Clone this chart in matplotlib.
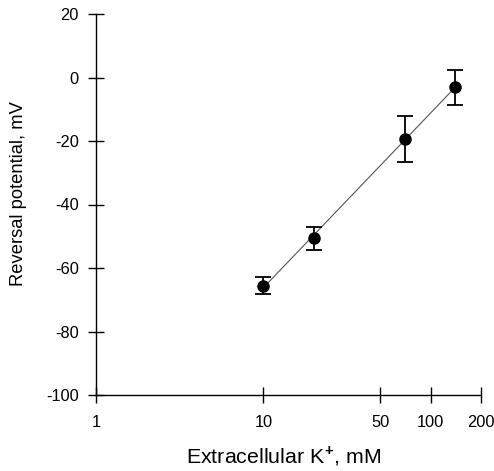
import numpy as np
import matplotlib
matplotlib.use("Agg")
import matplotlib.pyplot as plt

plt.rcParams['font.family'] = ['Liberation Sans', 'DejaVu Sans']
plt.rcParams['mathtext.fontset'] = 'custom'
plt.rcParams['mathtext.rm'] = 'Liberation Sans'
plt.rcParams['mathtext.bf'] = 'Liberation Sans:bold'

k_ext = [10, 20, 70, 140]
v_rev = [-65.6, -50.6, -19.4, -3.1]
v_err = [2.7, 3.6, 7.2, 5.6]

x_ticks = [1, 10, 50, 100, 200]
y_ticks = [-100, -80, -60, -40, -20, 0, 20]

fig = plt.figure(figsize=(4.94, 4.71), dpi=100)
ax = fig.add_axes([96/494, 1-395/471, (481-96)/494, (395-14)/471])

# regression line in log space
b, a = np.polyfit(np.log10(k_ext), v_rev, 1)
xf = np.array([k_ext[0], k_ext[-1]])
ax.plot(xf, a + b*np.log10(xf), color='#555555', lw=0.8, zorder=2)

ax.errorbar(k_ext, v_rev, yerr=v_err, fmt='o', color='black', ms=8,
            capsize=6, capthick=1.3, elinewidth=1.3, zorder=3)

ax.set_xscale('log')
ax.set_xlim(1, 200)
ax.set_ylim(-100, 20)
ax.set_xticks(x_ticks)
ax.set_xticklabels([str(t) for t in x_ticks])
ax.minorticks_off()
ax.set_yticks(y_ticks)
ax.set_yticklabels([str(t) for t in y_ticks])

for s in ['top', 'right']:
    ax.spines[s].set_visible(False)
for s in ['left', 'bottom']:
    ax.spines[s].set_linewidth(1.0)

ax.tick_params(axis='both', direction='inout', length=11, width=1.0,
               labelsize=11.8, colors='black')
ax.tick_params(axis='x', pad=9)
ax.tick_params(axis='y', pad=7)

ax.set_xlabel(r'Extracellular K$^{\mathbf{+}}$, mM', fontsize=15.4)
ax.set_ylabel('Reversal potential, mV', fontsize=13.2)
ax.xaxis.set_label_coords(0.486, -0.129)
ax.yaxis.set_label_coords(-0.18, 0.528)

fig.savefig('out.png', dpi=100)
